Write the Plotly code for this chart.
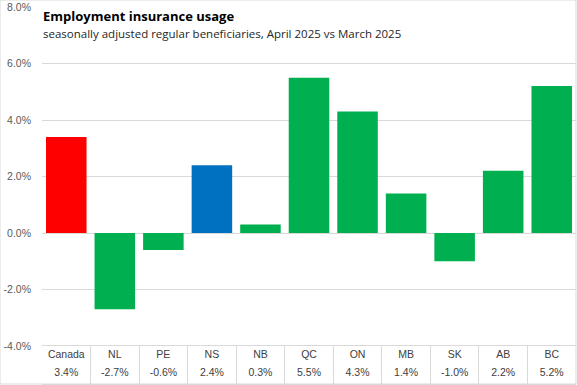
import plotly.graph_objects as go

categories = ["Canada", "NL", "PE", "NS", "NB", "QC", "ON", "MB", "SK", "AB", "BC"]
values = [3.4, -2.7, -0.6, 2.4, 0.3, 5.5, 4.3, 1.4, -1.0, 2.2, 5.2]
bar_colors = ["#FF0000", "#00B050", "#00B050", "#0070C0", "#00B050", "#00B050",
              "#00B050", "#00B050", "#00B050", "#00B050", "#00B050"]
y_ticks = [-4, -2, 0, 2, 4, 6, 8]
y_tick_labels = ["-4.0%", "-2.0%", "0.0%", "2.0%", "4.0%", "6.0%", "8.0%"]
value_labels = [f"{v:.1f}%" for v in values]

title = "Employment insurance usage"
subtitle = "seasonally adjusted regular beneficiaries, April 2025 vs March 2025"

W, H = 577, 385
ML, MR, MT, MB = 42, 1, 7, 1
PW, PH = W - ML - MR, H - MT - MB
table_frac = 38 / PH

idx = list(range(len(categories)))
grid = "#D9D9D9"
tick_font = dict(family="Liberation Sans, Arial, sans-serif", size=10.5, color="#595959")

fig = go.Figure()
fig.add_trace(go.Bar(x=idx, y=values, marker=dict(color=bar_colors, line=dict(width=0)),
                     xaxis="x", yaxis="y", hoverinfo="skip"))
fig.add_trace(go.Scatter(x=idx, y=[1.5] * len(idx), text=categories, mode="text",
                         textfont=dict(family="Liberation Sans, Arial, sans-serif", size=10.5, color="#404040"),
                         xaxis="x2", yaxis="y2", hoverinfo="skip"))
fig.add_trace(go.Scatter(x=idx, y=[0.55] * len(idx), text=value_labels, mode="text",
                         textfont=dict(family="Liberation Sans, Arial, sans-serif", size=10.5, color="#404040"),
                         xaxis="x2", yaxis="y2", hoverinfo="skip"))

fig.update_layout(
    width=W, height=H,
    margin=dict(l=ML, r=MR, t=MT, b=MB, autoexpand=False),
    paper_bgcolor="white", plot_bgcolor="white",
    showlegend=False,
    bargap=0.165,
    xaxis=dict(domain=[0, 1], range=[-0.5, len(idx) - 0.5], showticklabels=False,
               showgrid=False, zeroline=False, showline=False, anchor="y", automargin=False),
    yaxis=dict(domain=[table_frac, 1], range=[-4, 8], tickvals=y_ticks, ticktext=y_tick_labels,
               showgrid=True, gridcolor=grid, gridwidth=1, zeroline=True, zerolinecolor=grid,
               zerolinewidth=1, showline=False, tickfont=tick_font, ticks="",
               ticklabelstandoff=10, anchor="x", automargin=False),
    xaxis2=dict(domain=[0, 1], range=[-0.5, len(idx) - 0.5], anchor="y2",
                tickmode="linear", tick0=0.5, dtick=1, showgrid=True, gridcolor=grid,
                gridwidth=1, showticklabels=False, zeroline=False,
                showline=True, linecolor=grid, linewidth=1, mirror=True, ticks="",
                automargin=False),
    yaxis2=dict(domain=[0, table_frac], range=[0, 2], anchor="x2", showgrid=False,
                zeroline=False, showticklabels=False, showline=False, ticks="",
                automargin=False),
    shapes=[dict(type="rect", xref="paper", yref="paper",
                 x0=-ML / PW, x1=1.0, y0=0, y1=1 + MT / PH,
                 line=dict(color=grid, width=1), fillcolor="rgba(0,0,0,0)", layer="above")],
    annotations=[
        dict(text=f"<b>{title}</b>", xref="paper", yref="paper",
             x=(41 - ML) / PW, y=1 - (15.5 - MT) / PH, xanchor="left", yanchor="middle",
             showarrow=False, font=dict(family="Open Sans, Noto Sans, sans-serif", size=13, color="#000000")),
        dict(text=subtitle, xref="paper", yref="paper",
             x=(41 - ML) / PW, y=1 - (33 - MT) / PH, xanchor="left", yanchor="middle",
             showarrow=False, font=dict(family="Open Sans, Noto Sans, sans-serif", size=11.5, color="#262626")),
    ],
)

fig.write_html("out.html", config={"displayModeBar": False},
               post_script="document.body.style.margin='0';document.body.style.overflow='hidden';")
